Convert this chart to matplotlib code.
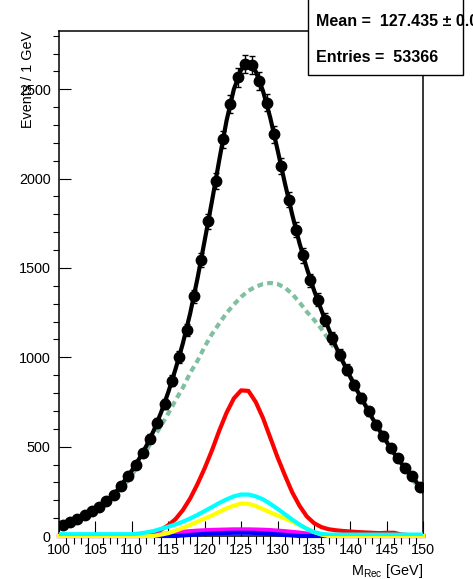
import matplotlib
matplotlib.use('Agg')
import matplotlib.pyplot as plt
from matplotlib.patches import Rectangle
import numpy as np

plt.rcParams['font.family'] = ['Liberation Sans', 'DejaVu Sans']
plt.rcParams['mathtext.fontset'] = 'custom'
plt.rcParams['mathtext.rm'] = 'Liberation Sans'

# histogram bins (1 GeV)
bin_centers = np.arange(100.5, 150.0, 1.0)
data_counts = [62, 78, 96, 116, 138, 164, 196, 232, 280, 336,
               398, 465, 545, 635, 740, 869, 1002, 1155, 1341, 1545,
               1762, 1986, 2220, 2416, 2566, 2640, 2634, 2547, 2425, 2248,
               2070, 1883, 1715, 1570, 1430, 1323, 1211, 1108, 1015, 930,
               846, 772, 697, 622, 557, 491, 435, 379, 333, 277]

# curves evaluated at 100, 101, ..., 150
mass = np.arange(100, 151, 1)
fit_total = [55, 70, 87, 106, 127, 151, 180, 213, 256, 310,
             366, 432, 505, 590, 690, 805, 935, 1078, 1245, 1440,
             1655, 1875, 2105, 2325, 2500, 2610, 2645, 2600, 2490, 2340,
             2160, 1975, 1800, 1640, 1500, 1375, 1265, 1160, 1060, 972,
             888, 808, 734, 660, 590, 524, 462, 406, 356, 305, 250]
background = [58, 70, 85, 102, 122, 146, 174, 206, 243, 287,
              340, 405, 478, 550, 617, 686, 760, 830, 912, 980,
              1060, 1130, 1190, 1248, 1295, 1338, 1373, 1395, 1410, 1416,
              1410, 1390, 1355, 1308, 1255, 1210, 1160, 1100, 1040, 975,
              895, 815, 740, 665, 595, 530, 465, 405, 350, 290, 228]
signal_red = [0, 0, 0, 0, 0, 0, 0, 0, 1, 2,
              3, 5, 9, 18, 35, 60, 95, 145, 210, 290,
              380, 480, 590, 690, 770, 815, 812, 750, 660, 550,
              440, 340, 245, 170, 110, 72, 50, 38, 32, 28,
              25, 22, 20, 18, 16, 18, 18, 8, 5, 3, 2]
comp_cyan = [10, 10, 10, 10, 10, 10, 10, 10, 10, 10,
             10, 14, 20, 28, 40, 52, 65, 80, 98, 118,
             140, 162, 185, 205, 222, 232, 232, 222, 205, 180,
             152, 122, 92, 64, 40, 22, 12, 8, 8, 8,
             8, 8, 8, 8, 8, 8, 8, 8, 8, 8, 8]
comp_yellow = [0, 0, 0, 0, 0, 0, 0, 0, 0, 0,
               0, 0, 0, 0, 8, 16, 30, 45, 62, 80,
               98, 115, 135, 155, 170, 182, 180, 168, 150, 132,
               115, 98, 80, 62, 42, 22, 8, 0, 0, 0,
               0, 0, 0, 0, 0, 0, 0, 0, 0, 0, 0]
comp_magenta = [0, 0, 0, 0, 0, 0, 0, 0, 0, 0,
                0, 0, 0, 5, 10, 15, 20, 24, 27, 30,
                32, 34, 35, 36, 37, 37, 37, 36, 35, 33,
                30, 27, 23, 19, 14, 10, 6, 3, 0, 0,
                0, 0, 0, 0, 0, 0, 0, 0, 0, 0, 0]
comp_blue = [0, 0, 0, 0, 0, 0, 0, 0, 0, 0,
             0, 0, 0, 0, 0, 0, 0, 3, 6, 9,
             12, 14, 16, 17, 18, 18, 18, 17, 15, 12,
             9, 6, 3, 0, 0, 0, 0, 0, 0, 0,
             0, 0, 0, 0, 0, 0, 0, 0, 0, 0, 0]

fig = plt.figure(figsize=(4.73, 5.79), dpi=100)
ax = fig.add_axes([59 / 473, 43 / 579, 364.3 / 473, 505 / 579])

ax.plot(mass, background, color='#80c0a0', lw=3,
        linestyle=(0, (1.4, 1.0)), zorder=2)
ax.plot(mass, signal_red, color='#ff0000', lw=3, zorder=3)
ax.plot(mass, comp_magenta, color='#ff00ff', lw=3, zorder=3, clip_on=False)
ax.plot(mass, comp_blue, color='#0000ff', lw=3, zorder=3, clip_on=False)
ax.plot(mass, comp_yellow, color='#ffff00', lw=3, zorder=3, clip_on=False)
ax.plot(mass, comp_cyan, color='#00ffff', lw=3, zorder=3)
ax.plot(mass, fit_total, color='k', lw=3, zorder=4)

errs = np.sqrt(data_counts)
ax.errorbar(bin_centers, data_counts, yerr=errs, fmt='o', color='k',
            ms=7.5, elinewidth=1, capsize=2.5, capthick=1, zorder=5)

ax.set_xlim(100, 150)
ax.set_ylim(0, 2826)
ax.set_xticks(np.arange(100, 151, 5))
ax.set_xticks(np.arange(100, 151, 1), minor=True)
ax.set_yticks(np.arange(0, 2501, 500))
ax.set_yticks(np.arange(0, 2801, 100), minor=True)

ax.tick_params(axis='both', direction='in', labelsize=10.4, width=0.8,
               top=False, right=False)
ax.tick_params(axis='x', which='major', length=11, pad=5)
ax.tick_params(axis='x', which='minor', length=6, width=0.8)
ax.tick_params(axis='y', which='major', length=8.4, pad=6)
ax.tick_params(axis='y', which='minor', length=4.3, width=0.8)
for sp in ax.spines.values():
    sp.set_linewidth(1.1)

ax.set_xlabel(r'$\mathregular{M_{Rec}}$ [GeV]', fontsize=10.4, loc='right',
              labelpad=4)
ax.set_ylabel('Events / 1 GeV', fontsize=10.4, loc='top')
ax.yaxis.set_label_coords(-0.066, 1.0)

# stats box
fig.patches.append(Rectangle((308 / 473, 1 - 75 / 579), 155 / 473, 0.2,
                             transform=fig.transFigure, facecolor='white',
                             edgecolor='black', lw=1.0, zorder=10))
fig.text(316 / 473, 1 - 21 / 579, 'Mean =  127.435 \u00b1 0.012',
         fontsize=11.5, fontweight='bold', va='center', ha='left', zorder=11)
fig.text(316 / 473, 1 - 58 / 579, 'Entries =  53366',
         fontsize=11.5, fontweight='bold', va='center', ha='left', zorder=11)

fig.savefig('out.png', dpi=100)
